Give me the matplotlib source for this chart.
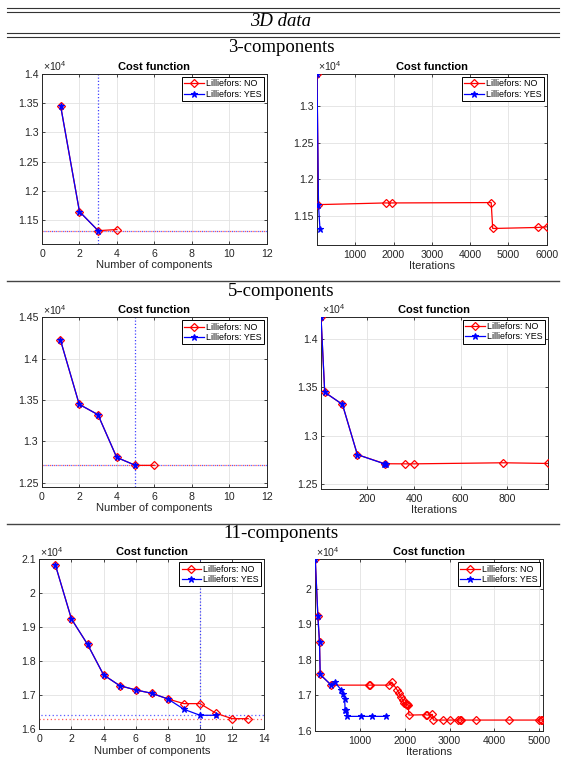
import numpy as np
import matplotlib
matplotlib.use('Agg')
import matplotlib.pyplot as plt
from matplotlib.lines import Line2D
from matplotlib.ticker import MultipleLocator, FuncFormatter

W, H, DPI = 562, 763, 100

# ---------------- data ----------------
# 3-components
comp3_x_no = [1, 2, 3, 4]
comp3_no = [13445, 11645, 11318, 11338]
comp3_x_yes = [1, 2, 3]
comp3_yes = [13445, 11645, 11318]
iter3_no = [1, 40, 1790, 1950, 4550, 4590, 5760, 6000]
cost3_it_no = [13445, 11650, 11673, 11673, 11678, 11322, 11336, 11345]
iter3_yes = [1, 40, 78]
cost3_it_yes = [13445, 11645, 11318]

# 5-components
comp5_x_no = [1, 2, 3, 4, 5, 6]
comp5_no = [14226, 13448, 13323, 12806, 12710, 12710]
comp5_x_yes = [1, 2, 3, 4, 5]
comp5_yes = [14226, 13448, 13323, 12806, 12710]
iter5_no = [1, 17, 93, 157, 275, 363, 400, 784, 974]
cost5_it_no = [14226, 13448, 13323, 12806, 12712, 12711, 12711, 12722, 12715]
iter5_yes = [1, 17, 93, 157, 272, 277, 281]
cost5_it_yes = [14226, 13448, 13323, 12806, 12712, 12710, 12710]

# 11-components
comp11_x_no = [1, 2, 3, 4, 5, 6, 7, 8, 9, 10, 11, 12, 13]
comp11_no = [20833, 19238, 18490, 17585, 17270, 17142, 17043, 16876, 16738,
             16738, 16453, 16294, 16294]
comp11_x_yes = [1, 2, 3, 4, 5, 6, 7, 8, 9, 10, 11]
comp11_yes = [20833, 19238, 18490, 17585, 17270, 17142, 17043, 16876, 16571,
              16394, 16394]
iter11_no = [1, 58, 95, 110, 357, 1205, 1230, 1643, 1710, 1830, 1868, 1905,
             1950, 1980, 2017, 2040, 2054, 2075, 2092, 2466, 2503, 2616, 2638,
             2862, 3011, 3198, 3230, 3251, 3588, 4327, 5000, 5038, 5075]
cost11_it_no = [20833, 19238, 18490, 17585, 17285, 17285, 17285, 17285, 17370,
                17150, 17060, 16960, 16870, 16770, 16740, 16730, 16740, 16730,
                16440, 16450, 16440, 16460, 16300, 16300, 16300, 16300, 16300,
                16300, 16300, 16300, 16300, 16300, 16300]
iter11_yes = [1, 58, 95, 110, 357, 432, 581, 619, 656, 668, 679, 716, 1015,
              1277, 1576]
cost11_it_yes = [20833, 19238, 18490, 17585, 17285, 17370, 17150, 17030, 16890,
                 16580, 16575, 16404, 16404, 16404, 16404]

sections = ['3-components', '5-components', '11-components']
table_title = '3D data'
legend_labels = ['Lilliefors: NO', 'Lilliefors: YES']

# ---------------- style ----------------
plt.rcParams['font.family'] = ['Liberation Sans', 'DejaVu Sans']
plt.rcParams['mathtext.fontset'] = 'custom'
plt.rcParams['mathtext.rm'] = 'Liberation Sans'
plt.rcParams['mathtext.it'] = 'Liberation Sans:italic'

fig = plt.figure(figsize=(W / DPI, H / DPI), dpi=DPI)
fig.patch.set_facecolor('white')

TXT = '#262626'


def add_ax(l, t, r, b):
    return fig.add_axes([l / W, 1 - b / H, (r - l) / W, (b - t) / H])


def fig_line(x0, x1, y, lw=0.9, color='#333333'):
    fig.add_artist(Line2D([x0 / W, x1 / W], [1 - y / H, 1 - y / H],
                          transform=fig.transFigure, color=color, lw=lw))


# table rules and headers
for y in [8.3, 12.3, 33.3, 37.3]:
    fig_line(7, 559, y, lw=0.8)
fig_line(7, 559, 280.7, lw=1.0, color='#444444')
fig_line(7, 559, 523.5, lw=1.0, color='#444444')
fig.text(281 / W, 1 - 22 / H, table_title, fontsize=13.5, style='italic',
         family=['Liberation Serif', 'DejaVu Serif'], ha='center', va='center')
for txt, y in zip(sections, [48, 291, 533]):
    fig.text(281 / W, 1 - y / H, txt, fontsize=13.5,
             family=['Liberation Serif', 'DejaVu Serif'], ha='center',
             va='center')


def style(ax, xlim, ylim, xstep, ystep, xlabel):
    ax.set_facecolor('white')
    ax.set_xlim(*xlim)
    ax.set_ylim(*ylim)
    ax.xaxis.set_major_locator(MultipleLocator(xstep))
    ax.yaxis.set_major_locator(MultipleLocator(ystep))
    ax.yaxis.set_major_formatter(FuncFormatter(lambda v, p: f'{round(v / 1e4, 4):g}'))
    ax.xaxis.set_major_formatter(FuncFormatter(lambda v, p: f'{v:g}'))
    ax.grid(True, color='#e2e2e2', lw=0.6)
    ax.set_axisbelow(True)
    ax.tick_params(direction='in', length=2.5, width=0.6, colors=TXT,
                   labelsize=7.6, top=True, right=True, pad=2.5)
    ax.tick_params(axis='x', pad=3.5)
    for s in ax.spines.values():
        s.set_color(TXT)
        s.set_linewidth(0.7)
    ax.set_title('Cost function', fontsize=8, fontweight='bold', pad=3)
    ax.set_xlabel(xlabel, fontsize=8, color=TXT, labelpad=1)
    ax.text(0.005, 1.004, r'$\times10^{4}$', transform=ax.transAxes,
            fontsize=7.6, color=TXT, ha='left', va='bottom')


def curves(ax, xn, yn, xy, yy):
    ax.plot(xn, yn, color='red', marker='D', mfc='none', mec='red', ms=4,
            mew=0.9, lw=0.9, label=legend_labels[0], zorder=3)
    ax.plot(xy, yy, color='blue', marker='*', ms=5, mew=0.8, lw=0.9,
            label=legend_labels[1], zorder=4)
    leg = ax.legend(loc='upper right', fontsize=6.4, handlelength=2.2,
                    handletextpad=0.25, borderpad=0.25, labelspacing=0.15,
                    borderaxespad=0.35, fancybox=False, framealpha=1)
    leg.get_frame().set_edgecolor('black')
    leg.get_frame().set_linewidth(0.7)


def min_lines(ax, yn, xy, yy):
    ax.axhline(min(yn), color='#ff3030', lw=0.9, ls=(0, (1.0, 2.0)),
               alpha=0.8, zorder=2)
    ax.axhline(min(yy), color='#3030ff', lw=0.9, ls=(1.5, (1.0, 2.0)),
               alpha=0.8, zorder=2)
    ax.axvline(xy[int(np.argmin(yy))], color='#2020ff', lw=0.9,
               ls=(0, (1.0, 1.6)), alpha=0.85, zorder=2)


# ---- row 1
ax = add_ax(42, 74, 266.7, 244)
style(ax, (0, 12), (11090, 14000), 2, 500, 'Number of components')
min_lines(ax, comp3_no, comp3_x_yes, comp3_yes)
curves(ax, comp3_x_no, comp3_no, comp3_x_yes, comp3_yes)

ax = add_ax(317, 74, 546.7, 245)
style(ax, (1, 6000), (11095, 13445), 1000, 500, 'Iterations')
curves(ax, iter3_no, cost3_it_no, iter3_yes, cost3_it_yes)

# ---- row 2
ax = add_ax(41.7, 317.3, 266.7, 486.7)
style(ax, (0, 12), (12452, 14500), 2, 500, 'Number of components')
min_lines(ax, comp5_no, comp5_x_yes, comp5_yes)
curves(ax, comp5_x_no, comp5_no, comp5_x_yes, comp5_yes)

ax = add_ax(321, 316.7, 547.7, 489)
style(ax, (1, 974), (12452, 14226), 200, 500, 'Iterations')
curves(ax, iter5_no, cost5_it_no, iter5_yes, cost5_it_yes)

# ---- row 3
ax = add_ax(39.3, 559.3, 264.3, 729.3)
style(ax, (0, 14), (15980, 21000), 2, 1000, 'Number of components')
min_lines(ax, comp11_no, comp11_x_yes, comp11_yes)
curves(ax, comp11_x_no, comp11_no, comp11_x_yes, comp11_yes)

ax = add_ax(315.3, 559.3, 542.7, 730.7)
style(ax, (1, 5080), (16000, 20833), 1000, 1000, 'Iterations')
curves(ax, iter11_no, cost11_it_no, iter11_yes, cost11_it_yes)

fig.savefig('out.png', dpi=DPI, facecolor='white')
